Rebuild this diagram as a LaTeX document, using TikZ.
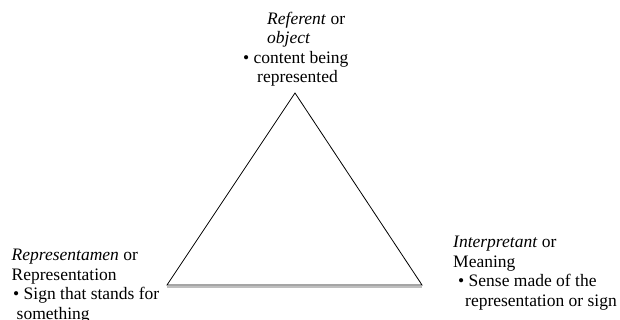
\documentclass[tikz,border=0pt]{standalone}
\usepackage{fontspec}
\setmainfont{Liberation Serif}
\tikzset{
  % anchored at the baseline of the block's last line
  label block/.style={anchor=base west, inner sep=0pt, align=left,
    font=\fontsize{17.5}{19.5}\selectfont},
  edge/.style={draw=black, line width=0.8pt, line join=miter},
  shade edge/.style={draw=black!25, line width=1.6pt}
}
\begin{document}
\begin{tikzpicture}[x=1pt,y=-1pt]
  \useasboundingbox (0,0) rectangle (620,320);
  % corners of the semiotic triangle
  \coordinate (apex) at (295,93);
  \coordinate (left) at (167,285);
  \coordinate (right) at (422,285);
  % soft shadow beneath the base
  \draw[shade edge] ([yshift=-2pt]left) -- ([yshift=-2pt]right);
  \draw[edge] (apex) -- (left) -- (right) -- cycle;
  % vertex labels
  \node[label block] (referent) at (243,83)
    {\hspace*{24pt}\textit{Referent} or\\
     \hspace*{24pt}\textit{object}\\
     • content being\\
     \hspace*{14pt}represented};
  \node[label block] (representamen) at (11.5,319)
    {\textit{Representamen} or\\
     Representation\\
     \hspace*{1.5pt}• Sign that stands for\\
     \hspace*{5pt}something};
  \node[label block] (interpretant) at (453,306)
    {\textit{Interpretant} or\\
     Meaning\\
     \hspace*{5pt}• Sense made of the\\
     \hspace*{12pt}representation or sign};
\end{tikzpicture}
\end{document}
